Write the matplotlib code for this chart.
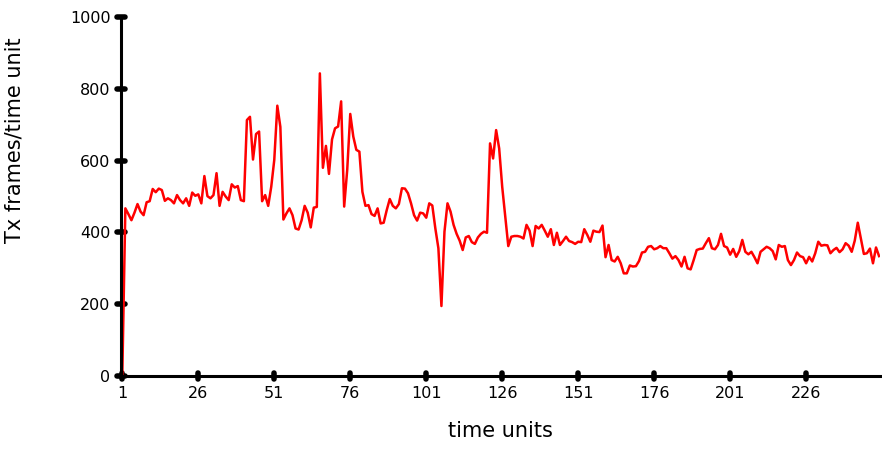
import numpy as np
import matplotlib.pyplot as plt
from matplotlib.markers import MarkerStyle

plt.rcParams['font.family'] = ['DejaVu Sans']

# Tx frames per time unit (time units 1..250)
tx_frames = [
    5, 467, 451, 434, 455, 479, 458, 448, 484, 487,
    521, 512, 522, 518, 488, 495, 490, 481, 504, 490,
    481, 495, 474, 511, 502, 506, 481, 557, 501, 495,
    504, 565, 474, 513, 500, 490, 534, 525, 529, 490,
    487, 713, 722, 603, 674, 681, 487, 504, 474, 527,
    602, 753, 694, 436, 453, 467, 448, 411, 408, 434,
    474, 455, 414, 469, 471, 843, 580, 641, 563, 659,
    690, 695, 765, 472, 574, 730, 667, 630, 625, 513,
    474, 476, 451, 446, 467, 425, 427, 462, 493, 474,
    467, 479, 523, 522, 509, 481, 448, 433, 455, 453,
    441, 481, 475, 411, 356, 195, 402, 481, 458, 421,
    396, 377, 351, 386, 390, 373, 368, 386, 396, 402,
    399, 648, 606, 685, 634, 527, 444, 362, 388, 390,
    390, 388, 383, 421, 405, 362, 418, 411, 421, 405,
    388, 409, 365, 399, 365, 376, 388, 376, 373, 368,
    374, 373, 409, 393, 374, 405, 402, 401, 419, 331,
    365, 323, 319, 332, 314, 286, 286, 308, 305, 306,
    320, 344, 346, 360, 362, 353, 356, 362, 356, 356,
    342, 327, 334, 323, 305, 332, 300, 297, 323, 351,
    354, 355, 370, 384, 356, 353, 365, 396, 362, 358,
    338, 354, 332, 348, 379, 346, 339, 346, 331, 314,
    346, 353, 360, 356, 348, 325, 365, 360, 362, 323,
    309, 323, 344, 334, 331, 314, 332, 319, 342, 374,
    363, 365, 364, 342, 351, 357, 345, 353, 370, 363,
    346, 377, 427, 384, 340, 342, 355, 314, 358, 334,
]
time_units = np.arange(1, len(tx_frames) + 1)
x_ticks = [1, 26, 51, 76, 101, 126, 151, 176, 201, 226]
y_ticks = [0, 200, 400, 600, 800, 1000]

fig = plt.figure(figsize=(8.82, 4.5), dpi=100)
ax = fig.add_axes([0.1372, 0.1644, 0.8605, 0.7978])

ax.plot(time_units, tx_frames, color='red', linewidth=1.8)

ax.set_xlim(0.57, 250.3)
ax.set_ylim(0, 1000)
ax.set_xticks(x_ticks)
ax.set_yticks(y_ticks)

for s in ['top', 'right']:
    ax.spines[s].set_visible(False)
for s in ['left', 'bottom']:
    ax.spines[s].set_linewidth(2.2)

ax.tick_params(axis='both', labelsize=11.5, pad=4)

# rounded "dot" ticks like the original
for t in ax.yaxis.get_major_ticks():
    t.tick1line.set_marker(MarkerStyle('_', capstyle='round'))
    t.tick1line.set_markersize(6)
    t.tick1line.set_markeredgewidth(4)
for t in ax.xaxis.get_major_ticks():
    t.tick1line.set_marker(MarkerStyle('|', capstyle='round'))
    t.tick1line.set_markersize(4)
    t.tick1line.set_markeredgewidth(4)

ax.set_xlabel('time units', fontsize=15)
ax.set_ylabel('Tx frames/time unit', fontsize=15)
ax.xaxis.set_label_coords(0.5, -0.125)
ax.yaxis.set_label_coords(-0.127, 0.657)

fig.savefig('out.png', dpi=100)
